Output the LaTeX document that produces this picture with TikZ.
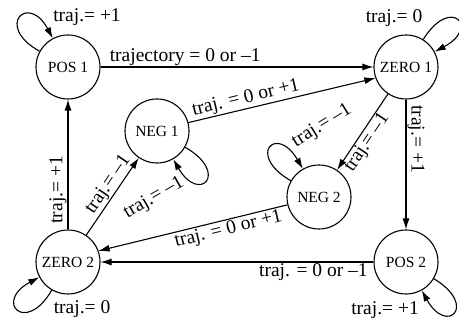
\documentclass[tikz,border=0pt]{standalone}
\usepackage{fontspec}
\setmainfont{Liberation Serif}
\usetikzlibrary{arrows.meta}
\begin{document}
\begin{tikzpicture}[x=1pt,y=1pt,
  state/.style={circle,draw,line width=1.1pt,minimum size=64pt,inner sep=0pt,font=\fontsize{15.5}{15.5}\selectfont},
  conn/.style={line width=1.1pt,-{Latex[length=11pt,width=7pt]}},
  lbl/.style={font=\fontsize{19.5}{19.5}\selectfont,inner sep=1pt},
  selfloop/.style={conn,distance=52pt}]
\useasboundingbox (0,0) rectangle (459,328);

% states
\node[state] (pos1)  at (68,261)  {POS 1};
\node[state] (zero1) at (406,261) {ZERO 1};
\node[state] (neg1)  at (157,197) {NEG 1};
\node[state] (neg2)  at (319,131) {NEG 2};
\node[state] (pos2)  at (406,66)  {POS 2};
\node[state] (zero2) at (68,66)   {ZERO 2};

% transitions between states
\draw[conn] (pos1) -- node[lbl,pos=0.31,above] {trajectory = 0 or \textendash1} (zero1);
\draw[conn] (neg1.15) -- node[lbl,pos=0.32,sloped,above] {traj. = 0 or +1} (zero1.200);
\draw[conn] (zero1) -- node[lbl,pos=0.57,sloped,below] {traj.= \textendash1} (neg2);
\draw[conn] (zero1) -- node[lbl,pos=0.305,sloped,above] {traj.= +1} (pos2);
\draw[conn] (pos2) -- node[lbl,pos=0.22,below] {traj. = 0 or \textendash1} (zero2);
\draw[conn] (neg2.194) -- node[lbl,pos=0.325,sloped,below] {traj. = 0 or +1} (zero2.20);
\draw[conn] (zero2) -- node[lbl,pos=0.58,sloped,above] {traj.= \textendash1} (neg1);
\draw[conn] (zero2) -- node[lbl,pos=0.305,sloped,above] {traj.= +1} (pos1);

% self loops
\draw[selfloop] (pos1)  to[out=151,in=118] (pos1);
\draw[selfloop] (zero1) to[out=58,in=28]   (zero1);
\draw[selfloop] (zero2) to[out=240,in=208] (zero2);
\draw[selfloop] (pos2)  to[out=-31,in=-61] (pos2);
\draw[selfloop] (neg1)  to[out=-30,in=-60] (neg1);
\draw[selfloop] (neg2)  to[out=150,in=120] (neg2);

% self-loop labels
\node[lbl] (lpos1)  at (87,311) {traj.= +1};
\node[lbl] (lzero1) at (394,310) {traj.= 0};
\node[lbl] (lzero2) at (82,19)  {traj.= 0};
\node[lbl] (lpos2)  at (385,18) {traj.= +1};
\node[lbl,rotate=30] (lneg1) at (154,130) {traj.= \textendash1};
\node[lbl,rotate=32] (lneg2) at (322,202) {traj.= \textendash1};
\end{tikzpicture}
\end{document}
